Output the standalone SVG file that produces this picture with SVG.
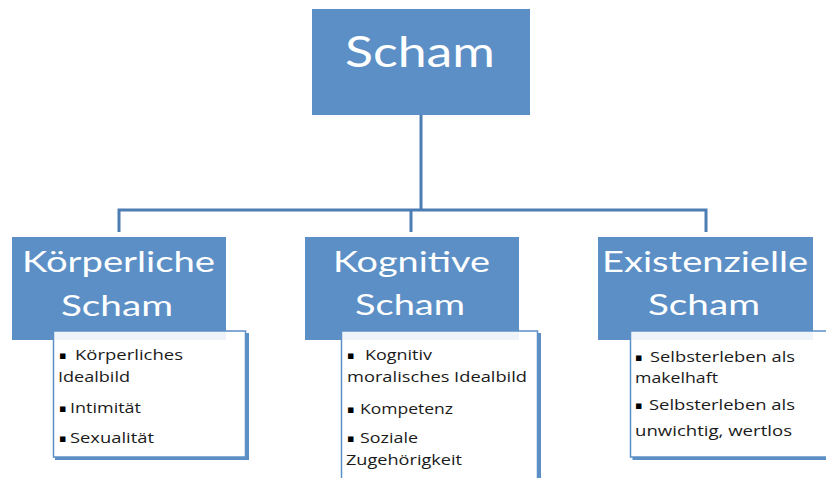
<svg xmlns="http://www.w3.org/2000/svg" width="826" height="478" viewBox="0 0 826 478">
<style>
.blue{fill:#5B8FC6}
.card{fill:#ffffff;fill-opacity:0.9;stroke:#5B8FC6;stroke-width:1.5}
.shadow{fill:none;stroke:#5B8FC6;stroke-width:3}
.conn{fill:none;stroke:#4C7DB3;stroke-width:3;stroke-linejoin:miter;stroke-linecap:butt}
.h{font-family:Lato,"Liberation Sans",sans-serif;fill:#ffffff;text-anchor:start}
.t{font-family:"Open Sans","Liberation Sans",sans-serif;font-size:15px;fill:#1a1a1a}
.b{font-family:"DejaVu Sans",sans-serif;font-size:11px;fill:#000000}
</style>
<rect x="0" y="0" width="826" height="478" fill="#ffffff"/>
<g id="connectors">
<path class="conn" d="M421 115 V210"/>
<path class="conn" d="M119 232 V210 H706 V232"/>
<path class="conn" d="M411 210 V232"/>
</g>
<g id="scham">
<rect class="blue" x="312" y="9" width="218" height="106"/>
<text class="h" x="345" y="67" font-size="42" textLength="150" lengthAdjust="spacingAndGlyphs">Scham</text>
</g>
<g id="koerperliche">
<rect class="blue" x="12" y="237" width="214" height="103"/>
<text class="h" x="22" y="272" font-size="29" textLength="193" lengthAdjust="spacingAndGlyphs">Körperliche</text>
<text class="h" x="61" y="316" font-size="29" textLength="112" lengthAdjust="spacingAndGlyphs">Scham</text>
</g>
<g id="koerperliche-list">
<rect class="card" x="53.5" y="331" width="192" height="126"/>
<path class="shadow" d="M247.5 333 V458.5 H55"/>
<text class="b" x="59" y="359">▪</text>
<text class="t" x="75" y="360" textLength="108" lengthAdjust="spacingAndGlyphs">Körperliches</text>
<text class="t" x="58" y="382" textLength="72" lengthAdjust="spacingAndGlyphs">Idealbild</text>
<text class="b" x="59" y="412">▪</text>
<text class="t" x="70" y="413" textLength="71" lengthAdjust="spacingAndGlyphs">Intimität</text>
<text class="b" x="59" y="442">▪</text>
<text class="t" x="70" y="443" textLength="84" lengthAdjust="spacingAndGlyphs">Sexualität</text>
</g>
<g id="kognitive">
<rect class="blue" x="305" y="237" width="214" height="103"/>
<text class="h" x="333" y="272" font-size="29" textLength="157" lengthAdjust="spacingAndGlyphs">Kognitive</text>
<text class="h" x="355" y="315" font-size="29" textLength="110" lengthAdjust="spacingAndGlyphs">Scham</text>
</g>
<g id="kognitive-list">
<rect class="card" x="341.5" y="331" width="196" height="160"/>
<path class="shadow" d="M539.5 333 V490"/>
<text class="b" x="347" y="359">▪</text>
<text class="t" x="365" y="360" textLength="67" lengthAdjust="spacingAndGlyphs">Kognitiv</text>
<text class="t" x="347" y="382" textLength="180" lengthAdjust="spacingAndGlyphs">moralisches Idealbild</text>
<text class="b" x="347" y="413">▪</text>
<text class="t" x="360" y="414" textLength="93" lengthAdjust="spacingAndGlyphs">Kompetenz</text>
<text class="b" x="347" y="442">▪</text>
<text class="t" x="360" y="443" textLength="58" lengthAdjust="spacingAndGlyphs">Soziale</text>
<text class="t" x="346" y="465" textLength="116" lengthAdjust="spacingAndGlyphs">Zugehörigkeit</text>
</g>
<g id="existenzielle">
<rect class="blue" x="598" y="237" width="215" height="103"/>
<text class="h" x="602" y="272" font-size="29" textLength="206" lengthAdjust="spacingAndGlyphs">Existenzielle</text>
<text class="h" x="648" y="315" font-size="29" textLength="112" lengthAdjust="spacingAndGlyphs">Scham</text>
</g>
<g id="existenzielle-list">
<rect class="card" x="630.5" y="331" width="210" height="126"/>
<path class="shadow" d="M632.5 458.5 H840"/>
<text class="b" x="635" y="361">▪</text>
<text class="t" x="650" y="362" textLength="145" lengthAdjust="spacingAndGlyphs">Selbsterleben als</text>
<text class="t" x="635" y="383" textLength="83" lengthAdjust="spacingAndGlyphs">makelhaft</text>
<text class="b" x="635" y="409">▪</text>
<text class="t" x="649" y="410" textLength="146" lengthAdjust="spacingAndGlyphs">Selbsterleben als</text>
<text class="t" x="635" y="436" textLength="157" lengthAdjust="spacingAndGlyphs">unwichtig, wertlos</text>
</g>
</svg>
